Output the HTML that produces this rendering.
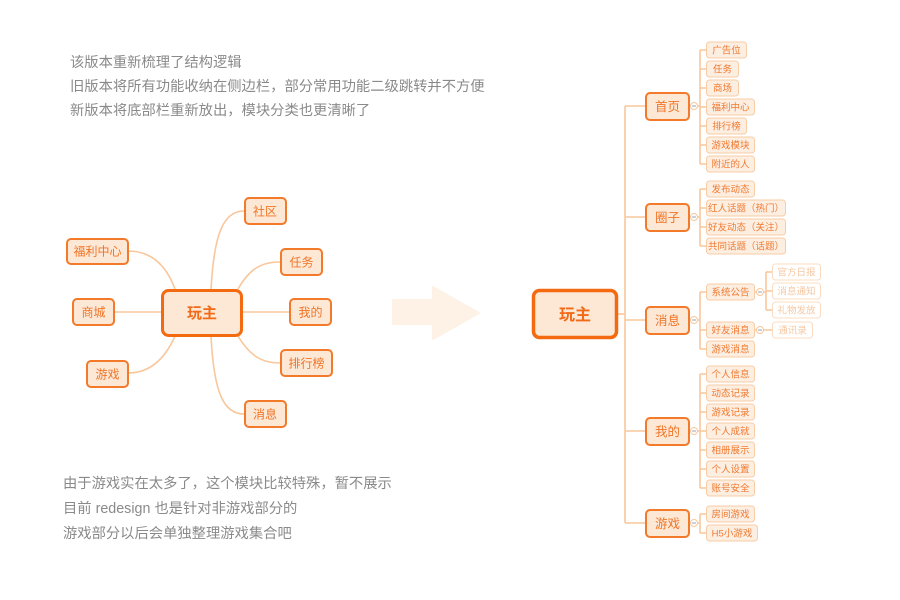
<!DOCTYPE html>
<html><head><meta charset="utf-8">
<style>
html,body{margin:0;padding:0;background:#fff;}
svg{display:block;font-family:"Liberation Sans","Noto Sans CJK SC",sans-serif;}
</style></head>
<body>
<svg width="900" height="600" viewBox="0 0 900 600" xmlns="http://www.w3.org/2000/svg">
<rect width="900" height="600" fill="#fff"/>

<!-- top text -->
<g fill="#8a8a8a" font-size="14.3">
<text x="70" y="67">该版本重新梳理了结构逻辑</text>
<text x="70" y="91">旧版本将所有功能收纳在侧边栏，部分常用功能二级跳转并不方便</text>
<text x="70" y="115">新版本将底部栏重新放出，模块分类也更清晰了</text>
</g>
<!-- bottom text -->
<g fill="#8a8a8a" font-size="14.3">
<text x="63" y="488">由于游戏实在太多了，这个模块比较特殊，暂不展示</text>
<text x="63" y="513">目前 redesign 也是针对非游戏部分的</text>
<text x="63" y="538">游戏部分以后会单独整理游戏集合吧</text>
</g>

<!-- left mindmap connectors -->
<g fill="none" stroke="#f9c79c" stroke-width="1.6">
<path d="M211,290 C214,232 224,211 244,211"/>
<path d="M238,289 C250,268 262,262 280,262"/>
<path d="M243,312 L289,312"/>
<path d="M238,336 C250,356 262,363 280,363"/>
<path d="M211,336 C214,394 224,414 244,414"/>
<path d="M128,251 C155,251 168,270 175,289"/>
<path d="M114,312 L161,312"/>
<path d="M128,373 C155,373 168,352 175,336"/>
</g>
<!-- left nodes -->
<g fill="#fde8d6" stroke="#f27a2a" stroke-width="2">
<rect x="245" y="198" width="41" height="26" rx="4"/>
<rect x="67" y="239" width="61" height="25" rx="4"/>
<rect x="281" y="249" width="41" height="26" rx="4"/>
<rect x="73" y="299" width="41" height="26" rx="4"/>
<rect x="290" y="299" width="41" height="26" rx="4"/>
<rect x="281" y="350" width="51" height="26" rx="4"/>
<rect x="87" y="361" width="41" height="26" rx="4"/>
<rect x="245" y="401" width="41" height="26" rx="4"/>
</g>
<rect x="162.5" y="290.5" width="79" height="45" rx="6" fill="#fde8d6" stroke="#f36a10" stroke-width="3"/>
<g fill="#f07426" font-size="12" text-anchor="middle">
<text x="265" y="215.5">社区</text>
<text x="97.5" y="255.5">福利中心</text>
<text x="301.5" y="266.5">任务</text>
<text x="93.5" y="316.5">商城</text>
<text x="310.5" y="316.5">我的</text>
<text x="306.5" y="367.5">排行榜</text>
<text x="107.5" y="378.5">游戏</text>
<text x="265" y="418.5">消息</text>
</g>
<text x="202" y="318" fill="#f06a18" font-size="15" font-weight="bold" text-anchor="middle">玩主</text>

<!-- arrow -->
<polygon points="393,300 433,300 433,287 479,313 433,339 433,324 393,324" fill="#fef2e6" stroke="#fef2e6" stroke-width="2" stroke-linejoin="round"/>

<!-- right mindmap connectors -->
<g fill="none" stroke="#f9c79c" stroke-width="1.6">
<path d="M618,314 L625,314"/>
<path d="M625,106 L625,523"/>
<path d="M625,106 L645,106 M625,217 L645,217 M625,320 L645,320 M625,431 L645,431 M625,523 L645,523"/>
<!-- 首页 -->
<path d="M689,106 L700,106 M700,50 L700,164"/>
<path d="M700,50 H706 M700,69 H706 M700,88 H706 M700,107 H706 M700,126 H706 M700,145 H706 M700,164 H706"/>
<!-- 圈子 -->
<path d="M689,217 L700,217 M700,189 L700,246"/>
<path d="M700,189 H706 M700,208 H706 M700,227 H706 M700,246 H706"/>
<!-- 消息 -->
<path d="M689,320 L700,320 M700,292 L700,349"/>
<path d="M700,292 H706 M700,330 H706 M700,349 H706"/>
<path d="M755,292 L766,292 M766,272 L766,310 M766,272 H772 M766,291 H772 M766,310 H772"/>
<path d="M755,330 L772,330"/>
<!-- 我的 -->
<path d="M689,431 L700,431 M700,374 L700,488"/>
<path d="M700,374 H706 M700,393 H706 M700,412 H706 M700,431 H706 M700,450 H706 M700,469 H706 M700,488 H706"/>
<!-- 游戏 -->
<path d="M689,523 L700,523 M700,514 L700,533 M700,514 H706 M700,533 H706"/>
</g>

<!-- right root -->
<rect x="533.5" y="290.5" width="83" height="47" rx="6" fill="#fde8d6" stroke="#f36a10" stroke-width="3.5"/>
<text x="575" y="320" fill="#f06a18" font-size="16" font-weight="bold" text-anchor="middle">玩主</text>

<!-- right level-1 nodes -->
<g fill="#fde8d6" stroke="#f27a2a" stroke-width="2">
<rect x="646" y="93" width="43" height="27" rx="4"/>
<rect x="646" y="204" width="43" height="27" rx="4"/>
<rect x="646" y="307" width="43" height="27" rx="4"/>
<rect x="646" y="418" width="43" height="27" rx="4"/>
<rect x="646" y="510" width="43" height="27" rx="4"/>
</g>
<g fill="#f07426" font-size="12.5" text-anchor="middle">
<text x="667.5" y="111">首页</text>
<text x="667.5" y="222">圈子</text>
<text x="667.5" y="325">消息</text>
<text x="667.5" y="436">我的</text>
<text x="667.5" y="528">游戏</text>
</g>

<!-- collapse circles -->
<g fill="#fff" stroke="#f9c79c" stroke-width="1">
<circle cx="694" cy="106" r="3.5"/>
<circle cx="694" cy="217" r="3.5"/>
<circle cx="694" cy="320" r="3.5"/>
<circle cx="694" cy="431" r="3.5"/>
<circle cx="694" cy="523" r="3.5"/>
<circle cx="760" cy="292" r="3.5"/>
<circle cx="760" cy="330" r="3.5"/>
</g>
<g stroke="#9aa4b4" stroke-width="0.9">
<path d="M692,106 H696 M692,217 H696 M692,320 H696 M692,431 H696 M692,523 H696 M758,292 H762 M758,330 H762"/>
</g>

<!-- leaves -->
<g fill="#fdeee2" stroke="#f8cda6" stroke-width="1">
<rect x="706.5" y="42" width="40" height="16" rx="3"/>
<rect x="706.5" y="61" width="32" height="16" rx="3"/>
<rect x="706.5" y="80" width="32" height="16" rx="3"/>
<rect x="706.5" y="99" width="48" height="16" rx="3"/>
<rect x="706.5" y="118" width="40" height="16" rx="3"/>
<rect x="706.5" y="137" width="48" height="16" rx="3"/>
<rect x="706.5" y="156" width="48" height="16" rx="3"/>

<rect x="706.5" y="181" width="48" height="16" rx="3"/>
<rect x="706.5" y="200" width="79" height="16" rx="3"/>
<rect x="706.5" y="219" width="79" height="16" rx="3"/>
<rect x="706.5" y="238" width="79" height="16" rx="3"/>

<rect x="706.5" y="284" width="48" height="16" rx="3"/>
<rect x="706.5" y="322" width="48" height="16" rx="3"/>
<rect x="706.5" y="341" width="48" height="16" rx="3"/>

<rect x="706.5" y="366" width="48" height="16" rx="3"/>
<rect x="706.5" y="385" width="48" height="16" rx="3"/>
<rect x="706.5" y="404" width="48" height="16" rx="3"/>
<rect x="706.5" y="423" width="48" height="16" rx="3"/>
<rect x="706.5" y="442" width="48" height="16" rx="3"/>
<rect x="706.5" y="461" width="48" height="16" rx="3"/>
<rect x="706.5" y="480" width="48" height="16" rx="3"/>

<rect x="706.5" y="506" width="48" height="16" rx="3"/>
<rect x="706.5" y="525" width="51" height="16" rx="3"/>
</g>
<g fill="#fff" stroke="#fbdcc2" stroke-width="1">
<rect x="772.5" y="264" width="48" height="16" rx="3"/>
<rect x="772.5" y="283" width="48" height="16" rx="3"/>
<rect x="772.5" y="302" width="48" height="16" rx="3"/>
<rect x="772.5" y="322" width="40" height="16" rx="3"/>
</g>
<g fill="#f07a30" font-size="9.5" text-anchor="middle">
<text x="726.5" y="53.5">广告位</text>
<text x="722.5" y="72.5">任务</text>
<text x="722.5" y="91.5">商场</text>
<text x="730.5" y="110.5">福利中心</text>
<text x="726.5" y="129.5">排行榜</text>
<text x="730.5" y="148.5">游戏模块</text>
<text x="730.5" y="167.5">附近的人</text>

<text x="730.5" y="192.5">发布动态</text>
<text x="746" y="211.5">红人话题（热门）</text>
<text x="746" y="230.5">好友动态（关注）</text>
<text x="746" y="249.5">共同话题（话题）</text>

<text x="730.5" y="295.5">系统公告</text>
<text x="730.5" y="333.5">好友消息</text>
<text x="730.5" y="352.5">游戏消息</text>

<text x="730.5" y="377.5">个人信息</text>
<text x="730.5" y="396.5">动态记录</text>
<text x="730.5" y="415.5">游戏记录</text>
<text x="730.5" y="434.5">个人成就</text>
<text x="730.5" y="453.5">相册展示</text>
<text x="730.5" y="472.5">个人设置</text>
<text x="730.5" y="491.5">账号安全</text>

<text x="730.5" y="517.5">房间游戏</text>
<text x="732" y="536.5">H5小游戏</text>
</g>
<g fill="#f6c7a2" font-size="9.5" text-anchor="middle">
<text x="796.5" y="275.5">官方日报</text>
<text x="796.5" y="294.5">消息通知</text>
<text x="796.5" y="313.5">礼物发放</text>
<text x="792.5" y="333.5">通讯录</text>
</g>
</svg>
</body></html>
